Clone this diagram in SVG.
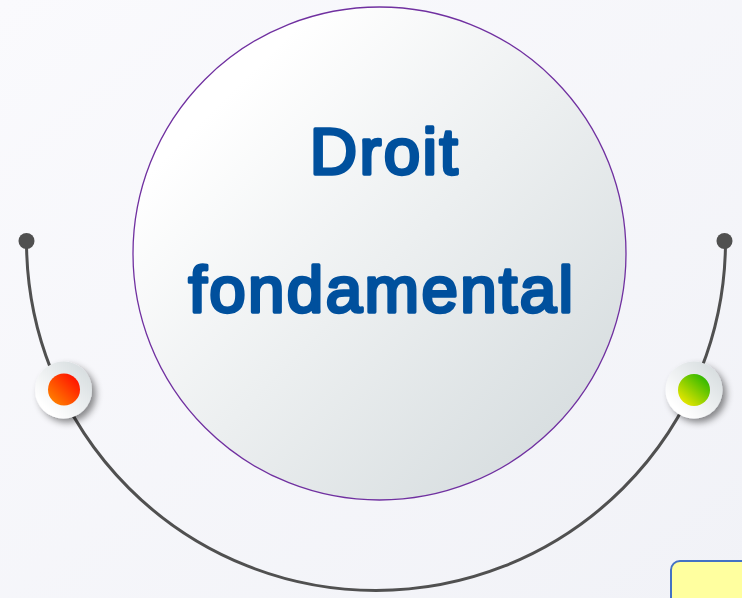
<svg xmlns="http://www.w3.org/2000/svg" width="742" height="598" viewBox="0 0 742 598">
<style>
.t{font-family:"Liberation Sans",Arial,sans-serif;font-weight:400;font-size:65.500px;letter-spacing:2.400px;fill:#00509d;stroke:#00509d;stroke-width:3.400;stroke-linejoin:round;text-anchor:middle}
.ring{fill:url(#g2)}
.end{fill:#505050}
</style>
<defs>
<linearGradient id="bg" x1="0" y1="0" x2="1" y2="1"><stop offset="0" stop-color="#fafafd"/><stop offset="1" stop-color="#f1f2f7"/></linearGradient>
<linearGradient id="g" x1="0.15" y1="0.15" x2="0.85" y2="0.85"><stop offset="0.05" stop-color="#ffffff"/><stop offset="1" stop-color="#d9dfe1"/></linearGradient>
<linearGradient id="g2" x1="0.15" y1="0.85" x2="0.85" y2="0.15"><stop offset="0.05" stop-color="#ffffff"/><stop offset="1" stop-color="#d9dfe1"/></linearGradient>
<linearGradient id="r" x1="0" y1="1" x2="1" y2="0"><stop offset="0" stop-color="#ff9000"/><stop offset="1" stop-color="#ff0000"/></linearGradient>
<linearGradient id="v" x1="0.15" y1="0.9" x2="0.85" y2="0.1"><stop offset="0" stop-color="#e8e600"/><stop offset="1" stop-color="#2fb800"/></linearGradient>
<filter id="s" x="-40%" y="-40%" width="190%" height="190%"><feDropShadow dx="4" dy="4" stdDeviation="3.500" flood-color="#000" flood-opacity="0.45"/></filter>
</defs>
<rect width="742" height="598" fill="url(#bg)"/>
<g id="connectors">
<path d="M26.500 241A349.500 349.500 0 0 0 725.500 241" fill="none" stroke="#505050" stroke-width="3"/>
</g>
<g id="end-left"><circle class="end" cx="26.500" cy="241" r="8"/></g>
<g id="end-right"><circle class="end" cx="724.500" cy="241" r="8"/></g>
<g id="main">
<circle cx="379.500" cy="253.500" r="246.500" fill="url(#g)" stroke="#7030a0" stroke-width="1.300"/>
<text class="t" x="385" y="174">Droit</text>
<text class="t" x="382" y="312">fondamental</text>
</g>
<g id="dot-left">
<circle class="ring" cx="63.500" cy="390" r="28.500" filter="url(#s)"/>
<circle cx="64" cy="389.500" r="16" fill="url(#r)"/>
</g>
<g id="dot-right">
<circle class="ring" cx="694" cy="390" r="28.500" filter="url(#s)"/>
<circle cx="694" cy="390" r="16" fill="url(#v)"/>
</g>
<g id="note">
<rect x="671" y="561" width="90" height="60" rx="9" fill="#ffff9f" stroke="#4472c4" stroke-width="2"/>
</g>
</svg>
